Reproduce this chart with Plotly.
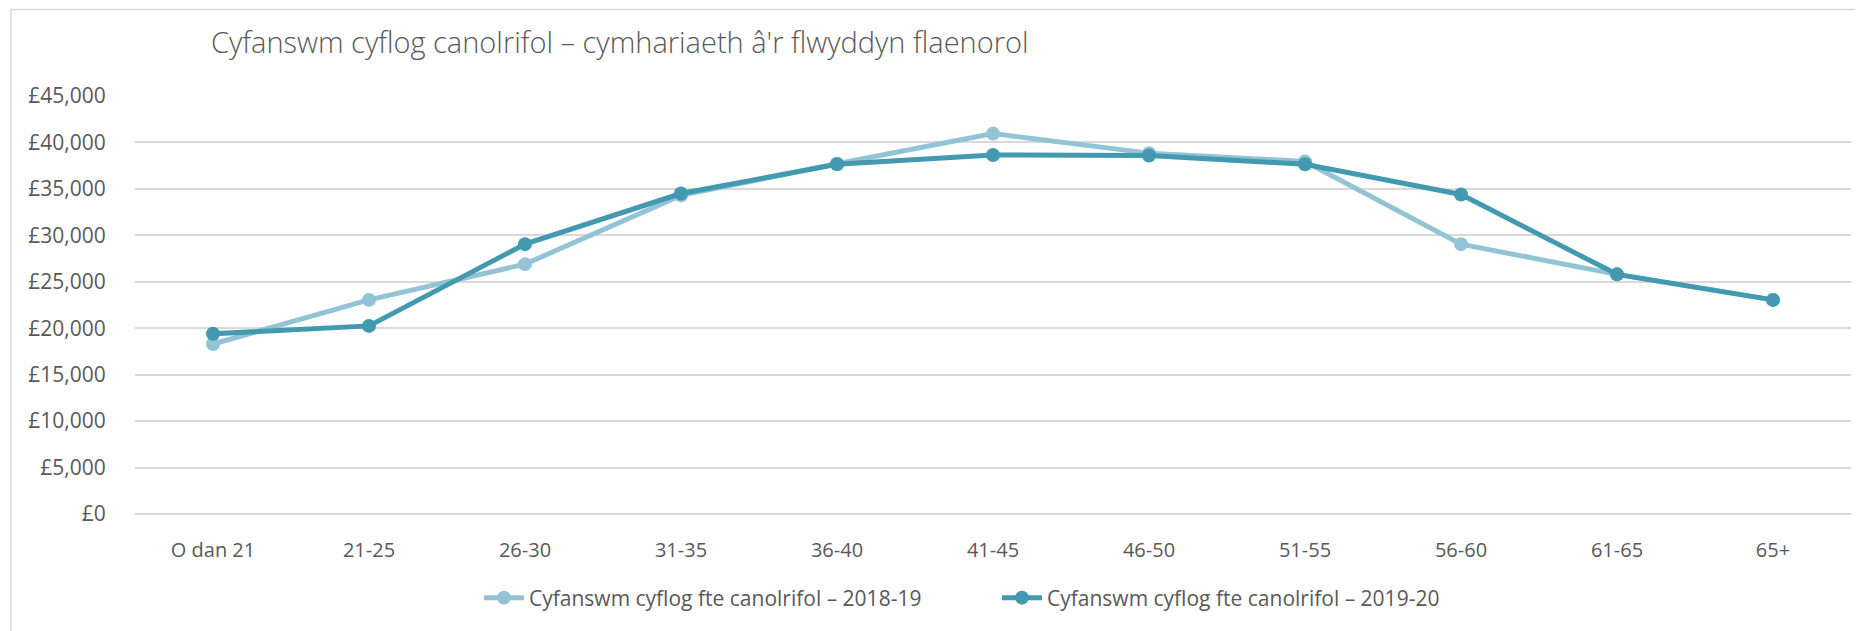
import plotly.graph_objects as go

categories = ["O dan 21", "21-25", "26-30", "31-35", "36-40", "41-45",
              "46-50", "51-55", "56-60", "61-65", "65+"]
pay_2018_19 = [18300, 23050, 26900, 34300, 37700, 40950,
               38850, 37950, 29050, 25800, 23050]
pay_2019_20 = [19400, 20250, 29050, 34500, 37650, 38650,
               38600, 37650, 34400, 25800, 23050]
name_2018_19 = "Cyfanswm cyflog fte canolrifol \u2013 2018-19"
name_2019_20 = "Cyfanswm cyflog fte canolrifol \u2013 2019-20"
title_text = "Cyfanswm cyflog canolrifol \u2013 cymhariaeth \u00e2'r flwyddyn flaenorol"
y_ticks = [0, 5000, 10000, 15000, 20000, 25000, 30000, 35000, 40000, 45000]
y_tick_labels = ["\u00a3" + f"{v:,}" for v in y_ticks]

LIGHT = "#93C4D6"
DARK = "#4299B0"
TEXT = "#595959"
GRID = "#D9D9D9"
FONT = "Open Sans"

# page has an 8px body margin; figure coordinates are page coordinates - 8
OFF = 8
W, H = 1863 - OFF, 631 - OFF
L, T = 135 - OFF, 96 - OFF
R = W - (1851 - OFF)
B = H - (514 - OFF)
pw, ph = W - L - R, H - T - B


def px_x(x):
    return (x - OFF - L) / pw


def px_y(y):
    return (H - B - (y - OFF)) / ph


fig = go.Figure()
fig.add_trace(go.Scatter(
    x=categories, y=pay_2018_19, name=name_2018_19, mode="lines+markers",
    line=dict(color=LIGHT, width=5), marker=dict(color=LIGHT, size=14)))
fig.add_trace(go.Scatter(
    x=categories, y=pay_2019_20, name=name_2019_20, mode="lines+markers",
    line=dict(color=DARK, width=5), marker=dict(color=DARK, size=14)))

fig.update_layout(
    width=W, height=H,
    margin=dict(l=L, r=R, t=T, b=B),
    paper_bgcolor="white", plot_bgcolor="white",
    font=dict(family=FONT, color=TEXT, size=20),
    title=dict(text=title_text, xref="container", yref="container",
               x=(211 - OFF) / W, xanchor="left", y=1 - (43 - OFF) / H,
               yanchor="middle",
               font=dict(family=FONT, size=29, color=TEXT, weight=300)),
    showlegend=True,
    legend=dict(orientation="h", xanchor="center", yanchor="middle",
                x=px_x(997), y=px_y(598), font=dict(size=21, color=TEXT),
                itemwidth=40, tracegroupgap=0,
                entrywidthmode="pixels", entrywidth=463),
    shapes=[dict(type="rect", xref="paper", yref="paper",
                 x0=px_x(11), x1=px_x(1862), y0=px_y(680), y1=px_y(9.5),
                 line=dict(color=GRID, width=1.5), fillcolor="rgba(0,0,0,0)",
                 layer="below")],
    hovermode=False,
)
fig.update_xaxes(type="category", range=[-0.5, len(categories) - 0.5],
                 showgrid=False, zeroline=False, showline=False,
                 ticks="outside", ticklen=18, tickcolor="rgba(0,0,0,0)",
                 tickfont=dict(size=20, color=TEXT))
fig.update_yaxes(range=[0, 45000], tickvals=y_ticks, ticktext=y_tick_labels,
                 showgrid=True, gridcolor=GRID, gridwidth=1.5,
                 zeroline=True, zerolinecolor=GRID, zerolinewidth=1.5,
                 showline=False, ticks="outside", ticklen=24,
                 tickcolor="rgba(0,0,0,0)", tickfont=dict(size=21, color=TEXT))

fig.write_html("out.html")
